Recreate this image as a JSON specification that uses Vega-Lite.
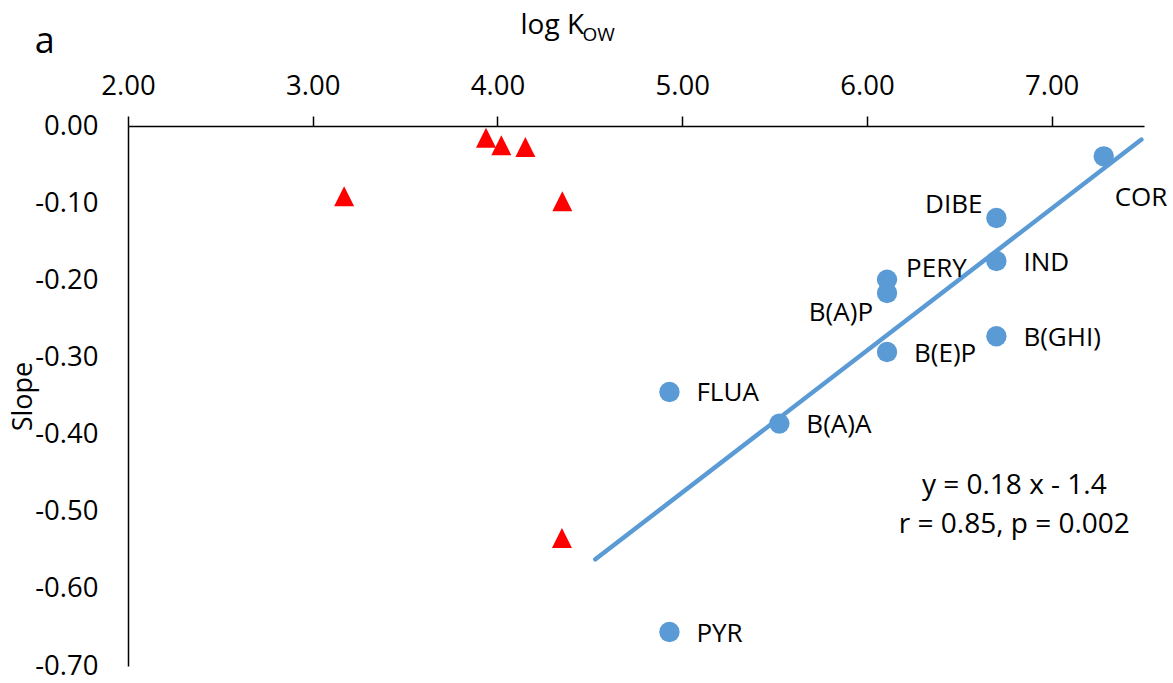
{
  "$schema": "https://vega.github.io/schema/vega-lite/v6.json",
  "width": 1016,
  "height": 540,
  "autosize": {"type": "none"},
  "padding": {"left": 128, "top": 126, "right": 29, "bottom": 17},
  "background": "white",
  "config": {"view": {"stroke": null}, "font": "Open Sans"},
  "datasets": {
    "pah": [
      {"name": "COR", "logKow": 7.282, "slope": -0.0393},
      {"name": "DIBE", "logKow": 6.701, "slope": -0.1193},
      {"name": "IND", "logKow": 6.701, "slope": -0.175},
      {"name": "PERY", "logKow": 6.109, "slope": -0.1991},
      {"name": "B(A)P", "logKow": 6.109, "slope": -0.2165},
      {"name": "B(E)P", "logKow": 6.109, "slope": -0.293},
      {"name": "B(GHI)", "logKow": 6.701, "slope": -0.2726},
      {"name": "FLUA", "logKow": 4.931, "slope": -0.3448},
      {"name": "B(A)A", "logKow": 5.526, "slope": -0.3858},
      {"name": "PYR", "logKow": 4.931, "slope": -0.656}
    ],
    "other": [
      {"logKow": 3.17, "slope": -0.0911},
      {"logKow": 3.938, "slope": -0.0153},
      {"logKow": 4.021, "slope": -0.025},
      {"logKow": 4.151, "slope": -0.0272},
      {"logKow": 4.351, "slope": -0.0974},
      {"logKow": 4.349, "slope": -0.534}
    ],
    "fit": [
      {"logKow": 4.53, "slope": -0.5617},
      {"logKow": 7.486, "slope": -0.0176}
    ],
    "one": [{}]
  },
  "layer": [
    {
      "data": {"name": "other"},
      "mark": {"type": "point", "shape": "M0,-1L1,1L-1,1Z", "filled": true, "color": "#FF0000", "size": 400, "opacity": 1, "strokeWidth": 0},
      "encoding": {
        "x": {
          "field": "logKow", "type": "quantitative",
          "scale": {"domain": [2, 7.5], "nice": false, "zero": false},
          "axis": {
            "orient": "top", "title": null, "values": [2, 3, 4, 5, 6, 7], "format": ".2f",
            "labelFontSize": 27.5, "labelColor": "#000", "labelPadding": 22, "labelBaseline": "alphabetic",
            "labelFlush": false, "labelOverlap": false,
            "tickSize": 10, "tickColor": "#000", "tickWidth": 1.5,
            "domainColor": "#000", "domainWidth": 1.5, "grid": false
          }
        },
        "y": {
          "field": "slope", "type": "quantitative",
          "scale": {"domain": [-0.7, 0], "nice": false, "zero": false},
          "axis": {
            "orient": "left", "title": "Slope", "values": [0, -0.1, -0.2, -0.3, -0.4, -0.5, -0.6, -0.7],
            "labelExpr": "replace(format(datum.value, '.2f'), '\u2212', '-')",
            "ticks": false, "tickSize": 0, "labelPadding": 30,
            "labelFontSize": 27.5, "labelColor": "#000", "labelFlush": false, "labelOverlap": false,
            "titleFontSize": 27, "titleFontWeight": "normal", "titleColor": "#000",
            "titleX": -105, "titleY": 270, "titleAngle": -90, "titleAlign": "center", "titleBaseline": "middle",
            "domainColor": "#000", "domainWidth": 1.5, "grid": false
          }
        }
      }
    },
    {
      "data": {"name": "pah"},
      "mark": {"type": "circle", "color": "#5B9BD5", "size": 415, "opacity": 1},
      "encoding": {
        "x": {"field": "logKow", "type": "quantitative"},
        "y": {"field": "slope", "type": "quantitative"}
      }
    },
    {
      "data": {"name": "fit"},
      "mark": {"type": "line", "color": "#5B9BD5", "strokeWidth": 4.5, "strokeCap": "round"},
      "encoding": {
        "x": {"field": "logKow", "type": "quantitative"},
        "y": {"field": "slope", "type": "quantitative"}
      }
    },
    {
      "data": {"name": "pah"},
      "transform": [{"filter": {"field": "name", "oneOf": ["IND", "B(E)P", "B(GHI)", "FLUA", "B(A)A", "PYR"]}}],
      "mark": {"type": "text", "align": "left", "baseline": "middle", "dx": 27, "dy": 1.5, "fontSize": 26, "color": "#000"},
      "encoding": {
        "x": {"field": "logKow", "type": "quantitative"},
        "y": {"field": "slope", "type": "quantitative"},
        "text": {"field": "name"}
      }
    },
    {
      "data": {"name": "pah"},
      "transform": [{"filter": {"field": "name", "equal": "PERY"}}],
      "mark": {"type": "text", "align": "left", "baseline": "middle", "dx": 19, "dy": -11, "fontSize": 26, "color": "#000"},
      "encoding": {
        "x": {"field": "logKow", "type": "quantitative"},
        "y": {"field": "slope", "type": "quantitative"},
        "text": {"field": "name"}
      }
    },
    {
      "data": {"name": "pah"},
      "transform": [{"filter": {"field": "name", "equal": "COR"}}],
      "mark": {"type": "text", "align": "left", "baseline": "middle", "dx": 11, "dy": 42, "fontSize": 26, "color": "#000"},
      "encoding": {
        "x": {"field": "logKow", "type": "quantitative"},
        "y": {"field": "slope", "type": "quantitative"},
        "text": {"field": "name"}
      }
    },
    {
      "data": {"name": "pah"},
      "transform": [{"filter": {"field": "name", "equal": "DIBE"}}],
      "mark": {"type": "text", "align": "right", "baseline": "middle", "dx": -14, "dy": -13, "fontSize": 26, "color": "#000"},
      "encoding": {
        "x": {"field": "logKow", "type": "quantitative"},
        "y": {"field": "slope", "type": "quantitative"},
        "text": {"field": "name"}
      }
    },
    {
      "data": {"name": "pah"},
      "transform": [{"filter": {"field": "name", "equal": "B(A)P"}}],
      "mark": {"type": "text", "align": "right", "baseline": "middle", "dx": -14, "dy": 20, "fontSize": 26, "color": "#000"},
      "encoding": {
        "x": {"field": "logKow", "type": "quantitative"},
        "y": {"field": "slope", "type": "quantitative"},
        "text": {"field": "name"}
      }
    },
    {
      "data": {"name": "one"},
      "mark": {"type": "text", "align": "center", "baseline": "middle", "fontSize": 28, "lineHeight": 39, "color": "#000"},
      "encoding": {
        "x": {"datum": 6.798, "type": "quantitative"},
        "y": {"datum": -0.467, "type": "quantitative"},
        "text": {"value": ["y = 0.18 x - 1.4", "r = 0.85, p = 0.002"]}
      }
    },
    {
      "data": {"name": "one"},
      "mark": {"type": "text", "align": "left", "baseline": "alphabetic", "fontSize": 28, "color": "#000"},
      "encoding": {
        "x": {"datum": 4.125, "type": "quantitative"},
        "y": {"datum": 0.1198, "type": "quantitative"},
        "text": {"value": "log K"}
      }
    },
    {
      "data": {"name": "one"},
      "mark": {"type": "text", "align": "left", "baseline": "alphabetic", "fontSize": 19, "color": "#000"},
      "encoding": {
        "x": {"datum": 4.46, "type": "quantitative"},
        "y": {"datum": 0.1102, "type": "quantitative"},
        "text": {"value": "OW"}
      }
    },
    {
      "data": {"name": "one"},
      "mark": {"type": "text", "align": "left", "baseline": "alphabetic", "fontSize": 36, "color": "#000"},
      "encoding": {
        "x": {"datum": 1.495, "type": "quantitative"},
        "y": {"datum": 0.0952, "type": "quantitative"},
        "text": {"value": "a"}
      }
    }
  ]
}
